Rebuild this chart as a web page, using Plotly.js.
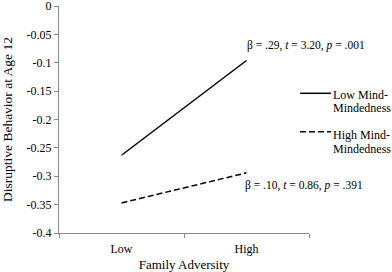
<!DOCTYPE html>
<html>
<head>
<meta charset="utf-8">
<script src="https://cdn.plot.ly/plotly-3.0.1.min.js"></script>
<style>html,body{margin:0;padding:0;background:#fff;}#chart{width:392px;height:272px;}</style>
</head>
<body>
<div id="chart"></div>
<script>
const categories = ["Low", "High"];
const lowMindMindedness = [-0.263, -0.096];
const highMindMindedness = [-0.347, -0.294];
const seriesNames = ["Low Mind-Mindedness", "High Mind-Mindedness"];
const legendLines = [["Low Mind-", "Mindedness"], ["High Mind-", "Mindedness"]];
const yTickValues = [0, -0.05, -0.1, -0.15, -0.2, -0.25, -0.3, -0.35, -0.4];
const yTickLabels = ["0", "-0.05", "-0.1", "-0.15", "-0.2", "-0.25", "-0.3", "-0.35", "-0.4"];
const statLabels = [
  "β = .29, <i>t</i> = 3.20, <i>p</i> = .001",
  "β = .10, <i>t</i> = 0.86, <i>p</i> = .391"
];

const font = "Liberation Serif, Times New Roman, serif";
const dashes = ["solid", "6px,3px"];

const traces = [
  {x: categories, y: lowMindMindedness, name: seriesNames[0], type: "scatter", mode: "lines",
   line: {color: "#000", width: 1.5, dash: dashes[0]}},
  {x: categories, y: highMindMindedness, name: seriesNames[1], type: "scatter", mode: "lines",
   line: {color: "#000", width: 1.5, dash: dashes[1]}}
];

// manual legend (outside the plot area, in paper coordinates)
const legendSymbolY = [0.6154, 0.4463];
const legendTextY = [[0.6079, 0.5507], [0.4317, 0.3700]];
const shapes = legendSymbolY.map((y, i) => ({
  type: "line", xref: "paper", yref: "paper", x0: 0.964, x1: 1.088, y0: y, y1: y,
  line: {color: "#000", width: 1.5, dash: dashes[i]}
}));

const annotations = [
  {x: categories[1], y: lowMindMindedness[1], xref: "x", yref: "y", text: statLabels[0],
   showarrow: false, xanchor: "left", yanchor: "bottom", xshift: -2, yshift: 6,
   font: {family: font, size: 11.5, color: "#000"}},
  {x: categories[1], y: highMindMindedness[1], xref: "x", yref: "y", text: statLabels[1],
   showarrow: false, xanchor: "left", yanchor: "top", xshift: -4, yshift: -4,
   font: {family: font, size: 11.5, color: "#000"}}
];
legendLines.forEach((lines, i) => {
  lines.forEach((t, j) => {
    annotations.push({x: 1.096, y: legendTextY[i][j], xref: "paper", yref: "paper", text: t,
      showarrow: false, xanchor: "left", yanchor: "middle", xshift: -2,
      font: {family: font, size: 12, color: "#000"}});
  });
});

const layout = {
  width: 392, height: 272,
  margin: {l: 59, r: 83, t: 6, b: 39},
  paper_bgcolor: "#fff", plot_bgcolor: "#fff",
  font: {family: font, size: 12, color: "#000"},
  showlegend: false,
  xaxis: {
    type: "category", range: [-0.5, 1.5], tickson: "boundaries",
    showline: true, linecolor: "#888", linewidth: 1,
    ticks: "outside", ticklen: 4, tickcolor: "#888",
    ticklabelstandoff: 5,
    showgrid: false, zeroline: false,
    tickfont: {family: font, size: 12, color: "#000"},
    title: {text: "Family Adversity", font: {family: font, size: 13, color: "#000"}, standoff: 4}
  },
  yaxis: {
    range: [-0.4, 0], tickvals: yTickValues, ticktext: yTickLabels,
    showline: true, linecolor: "#888", linewidth: 1,
    ticks: "outside", ticklen: 4, tickcolor: "#888",
    ticklabeloverflow: "allow",
    showgrid: false, zeroline: false,
    tickfont: {family: font, size: 12, color: "#000"},
    title: {text: "Disruptive Behavior at Age 12", font: {family: font, size: 13.5, color: "#000"}, standoff: 13}
  },
  shapes: shapes,
  annotations: annotations
};

Plotly.newPlot("chart", traces, layout, {displayModeBar: false, staticPlot: true});
</script>
</body>
</html>
